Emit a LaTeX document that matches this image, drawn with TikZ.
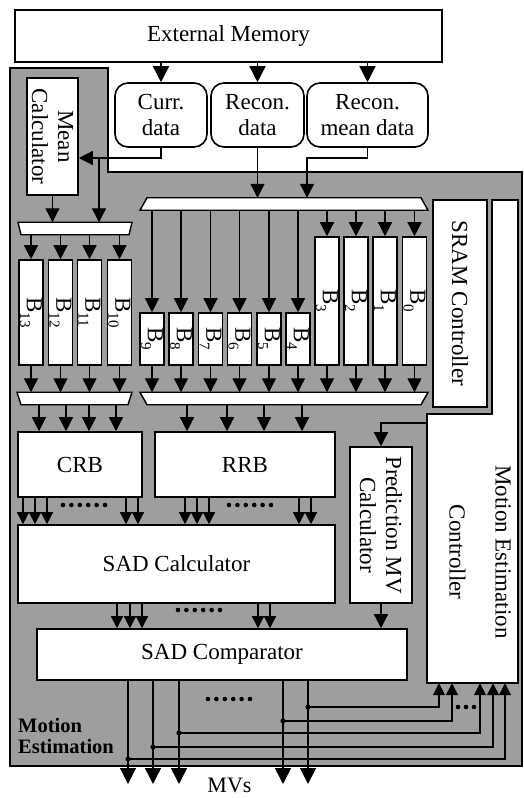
\documentclass[tikz,border=0pt]{standalone}
\usepackage{fontspec}
\setmainfont{Liberation Serif}
\usetikzlibrary{arrows.meta}
\newcommand\bsub[1]{B\raisebox{-0.3em}{\fontsize{15}{15}\selectfont #1}}
\definecolor{halftone}{gray}{0.62}
\begin{document}
\begin{tikzpicture}[x=1pt,y=-1pt,
  box/.style={draw, fill=white, line width=1.6pt, inner sep=0pt, align=center, font=\fontsize{23}{26}\selectfont},
  rbox/.style={box, rounded corners=13pt},
  tframe/.style={inner sep=0pt, outer sep=0pt, minimum height=12.5},
  tdraw/.style={draw, fill=white, line width=1.4pt},
  arr/.style={line width=1.4pt, -{Triangle[width=14pt,length=14pt]}},
  sarr/.style={line width=1.4pt, -{Triangle[width=12pt,length=12pt]}},
  bigarr/.style={line width=1.4pt, -{Triangle[width=16pt,length=16pt]}},
  rlbl/.style={rotate=-90, align=center, font=\fontsize{23}{26}\selectfont}
]
\useasboundingbox (0,0) rectangle (524,798);

% grey region
\draw[fill=halftone, line width=1.6pt] (10,68) -- (108,68) -- (108,172) -- (522,172) -- (522,766) -- (10,766) -- cycle;

% external memory and data buffers
\node[box, minimum width=427, minimum height=52] (em) at (228.5,36) {External Memory};
\node[rbox, minimum width=92, minimum height=64] (cd) at (161,115) {Curr.\\data};
\node[rbox, minimum width=93, minimum height=64] (rd) at (257.5,115) {Recon.\\data};
\node[rbox, minimum width=121, minimum height=64] (rmd) at (367.5,115) {Recon.\\mean data};
\draw[bigarr] (em.south -| cd.north) -- (cd.north);
\draw[bigarr] (em.south -| rd.north) -- (rd.north);
\draw[bigarr] (em.south -| rmd.north) -- (rmd.north);

% mean calculator
\node[box, minimum width=51, minimum height=117] (mc) at (52.5,136.5) {};
\node[rlbl] at (mc) {Mean\\Calculator};

% trapezia (multiplexers)
\node[tframe, minimum width=288] (tR1) at (284,204) {};
\draw[tdraw] ([xshift=7pt]tR1.north west) -- ([xshift=-7pt]tR1.north east) -- (tR1.south east) -- (tR1.south west) -- cycle;
\node[tframe, minimum width=114] (tL1) at (75,228.5) {};
\draw[tdraw] (tL1.north west) -- (tL1.north east) -- ([xshift=-3pt]tL1.south east) -- ([xshift=3pt]tL1.south west) -- cycle;
\node[tframe, minimum width=115] (tL2) at (74.5,398.5) {};
\draw[tdraw] (tL2.north west) -- (tL2.north east) -- ([xshift=-4pt]tL2.south east) -- ([xshift=4pt]tL2.south west) -- cycle;
\node[tframe, minimum width=288] (tR2) at (284,398.5) {};
\draw[tdraw] (tR2.north west) -- (tR2.north east) -- ([xshift=-7pt]tR2.south east) -- ([xshift=7pt]tR2.south west) -- cycle;

% connections from buffers
\coordinate (cdturn) at (161,158);
\coordinate (cdsplit) at (99,158);
\draw[arr] (cd.south) -- (cdturn) -- (cdturn -| mc.east);
\draw[arr] (cdsplit) -- (cdsplit |- tL1.north);
\draw[arr] (mc.south) -- (mc.south |- tL1.north);
\draw[arr] (rd.south) -- (rd.south |- tR1.north);
\coordinate (rmturn) at (367.5,158);
\coordinate (rmleft) at (307,158);
\draw[arr] (rmd.south) -- (rmturn) -- (rmleft) -- (rmleft |- tR1.north);

% memory banks B13..B10
\foreach \n/\cx in {13/31,12/60.5,11/89.5,10/119.5}{
  \node[box, minimum width=24, minimum height=105] (b\n) at (\cx,312.5) {};
  \node[rlbl] at (b\n) {\bsub{\n}};
  \draw[arr] (b\n.north |- tL1.south) -- (b\n.north);
  \draw[arr] (b\n.south) -- (b\n.south |- tL2.north);
}
% B9..B4
\foreach \n/\cx in {9/152,8/181,7/210.5,6/239.5,5/269,4/298}{
  \node[box, minimum width=24, minimum height=52] (b\n) at (\cx,339) {};
  \node[rlbl] at (b\n) {\bsub{\n}};
  \draw[arr] (b\n.north |- tR1.south) -- (b\n.north);
  \draw[arr] (b\n.south) -- (b\n.south |- tR2.north);
}
% B3..B0
\foreach \n/\cx in {3/327,2/356,1/385,0/414.5}{
  \node[box, minimum width=24, minimum height=128] (b\n) at (\cx,301) {};
  \node[rlbl] at (b\n) {\bsub{\n}};
  \draw[arr] (b\n.north |- tR1.south) -- (b\n.north);
  \draw[arr] (b\n.south) -- (b\n.south |- tR2.north);
}

% SRAM controller
\node[box, minimum width=54, minimum height=207] (sram) at (460,303.5) {};
\node[rlbl] at (sram) {SRAM Controller};

% motion estimation controller (L-shaped)
\draw[fill=white, line width=1.6pt] (492,200) -- (518,200) -- (518,683) -- (427,683) -- (427,414) -- (492,414) -- cycle;
\node[inner sep=0pt, minimum width=91, minimum height=269] (mec) at (472.5,548.5) {};
\node[rlbl] at (480,552) {Motion Estimation\\[20pt]Controller};

% CRB, RRB
\node[box, minimum width=124, minimum height=65] (crb) at (80,464.5) {CRB};
\node[box, minimum width=180, minimum height=65] (rrb) at (245,464.5) {RRB};
\foreach \x [count=\i] in {39,66,89,116}{
  \coordinate (cl\i) at (\x,0);
  \draw[arr] (cl\i |- tL2.south) -- (cl\i |- crb.north);
}
\foreach \x [count=\i] in {187,227,264,302}{
  \coordinate (cr\i) at (\x,0);
  \draw[arr] (cr\i |- tR2.south) -- (cr\i |- rrb.north);
}

% SAD calculator
\node[box, minimum width=317, minimum height=78] (sad) at (176.5,564) {SAD Calculator};
\foreach \x [count=\i] in {23,35,47,126,138}{
  \coordinate (sc\i) at (\x,0);
  \draw[sarr] (sc\i |- crb.south) -- (sc\i |- sad.north);
}
\foreach \x [count=\i] in {185,197,209,299,311}{
  \coordinate (sr\i) at (\x,0);
  \draw[sarr] (sr\i |- rrb.south) -- (sr\i |- sad.north);
}
\foreach \i in {0,...,5}{
  \fill (63+\i*8.4,505) circle (2.3);
  \fill (229+\i*8.4,505) circle (2.3);
  \fill (178+\i*8.4,610) circle (2.3);
  \fill (208+\i*8.4,699) circle (2.3);
}

% prediction MV calculator
\node[box, minimum width=62, minimum height=156] (pm) at (381,525) {};
\node[rlbl] at (pm) {Prediction MV\\Calculator};
\coordinate (pmturn) at (381,423);
\draw[arr] (pmturn -| mec.west) -- (pmturn) -- (pm.north);

% SAD comparator
\node[box, minimum width=370, minimum height=51] (cmp) at (222,654.5) {SAD Comparator};
\foreach \x [count=\i] in {117,130,142,258,270}{
  \coordinate (sd\i) at (\x,0);
  \draw[sarr] (sd\i |- sad.south) -- (sd\i |- cmp.north);
}
\draw[arr] (pm.south) -- (pm.south |- cmp.north);

% outputs and feedback
\foreach \x/\y/\ex [count=\i] in {128/759/505, 153/747/493, 179/733/480, 283/721/452, 308/707/439}{
  \coordinate (out\i) at (\x,784);
  \coordinate (jn\i) at (\x,\y);
  \coordinate (fb\i) at (\ex,\y);
  \draw[bigarr] (out\i |- cmp.south) -- (out\i);
  \fill (jn\i) circle (2.6);
  \draw[sarr] (jn\i) -- (fb\i) -- (fb\i |- mec.south);
}
\foreach \i in {0,1,2} \fill (458+\i*8,707) circle (2.3);

% labels
\node[font=\bfseries\fontsize{20.5}{21}\selectfont, align=left, anchor=west, inner sep=0pt] at (18,736) {Motion\\Estimation};
\node[font=\fontsize{22}{24}\selectfont, inner sep=1pt] at (229.5,785) {MVs};
\end{tikzpicture}
\end{document}
